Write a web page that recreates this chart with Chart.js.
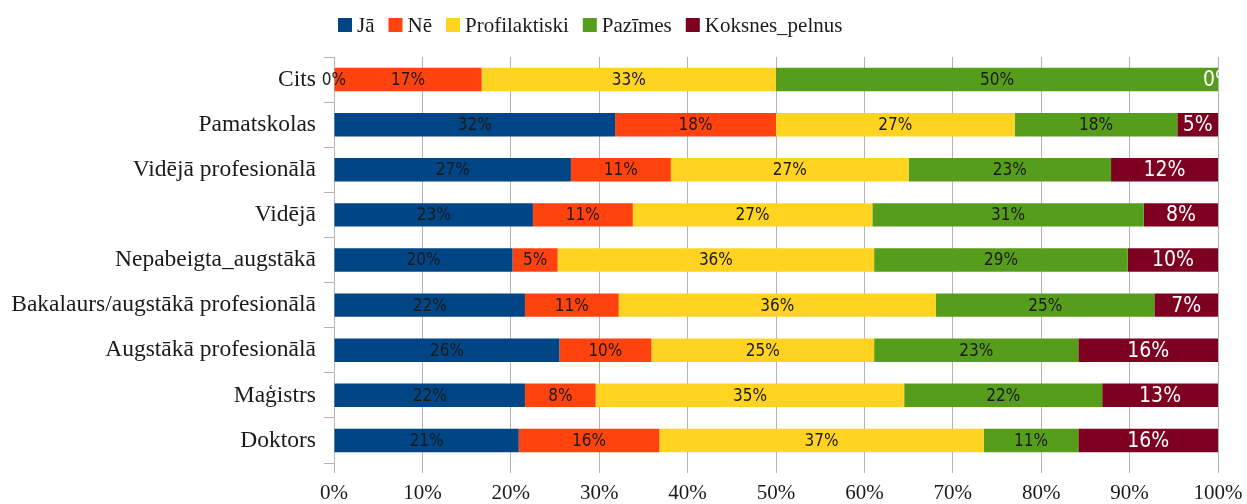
<!DOCTYPE html>
<html>
<head>
<meta charset="utf-8">
<script src="https://cdn.jsdelivr.net/npm/chart.js@4.4.1/dist/chart.umd.min.js"></script>
<style>
  html, body { margin: 0; padding: 0; background: #fff; }
  #wrap { width: 1247px; height: 504px; }
</style>
</head>
<body>
<div id="wrap"><canvas id="chart" width="1247" height="504"></canvas></div>
<script>
// kategorijas (no augšas uz leju)
const categories = ['Cits', 'Pamatskolas', 'Vidējā profesionālā', 'Vidējā', 'Nepabeigta_augstākā',
  'Bakalaurs/augstākā profesionālā', 'Augstākā profesionālā', 'Maģistrs', 'Doktors'];

const seriesNames = ['Jā', 'Nē', 'Profilaktiski', 'Pazīmes', 'Koksnes_pelnus'];
const seriesColors = ['#004586', '#ff420e', '#ffd320', '#579d1c', '#7e0021'];

// procenti nolasīti no attēla
const ja            = [0,    31.8, 26.8, 22.5, 20.2, 21.6, 25.5, 21.6, 20.9];
const ne            = [16.7, 18.2, 11.3, 11.3, 5.1,  10.6, 10.4, 8.0,  15.9];
const profilaktiski = [33.3, 27.0, 26.9, 27.1, 35.8, 35.9, 25.2, 34.9, 36.7];
const pazimes       = [50.0, 18.4, 22.9, 30.7, 28.7, 24.7, 23.1, 22.4, 10.7];
const koksnes       = [0,    4.6,  12.1, 8.4,  10.2, 7.2,  15.8, 13.1, 15.8];

const xTicks = [0, 10, 20, 30, 40, 50, 60, 70, 80, 90, 100];

const serif = "'Liberation Serif', 'DejaVu Serif', serif";
const labelFont = "'DejaVu Sans Condensed', 'Liberation Sans Narrow', 'DejaVu Sans', sans-serif";

const allSeries = [ja, ne, profilaktiski, pazimes, koksnes];
const datasets = allSeries.map((d, i) => ({
  label: seriesNames[i],
  data: d,
  backgroundColor: seriesColors[i],
  borderWidth: 0,
  barPercentage: 0.52,
  categoryPercentage: 1.0
}));

// vērtību uzraksti joslu vidū
const barLabels = {
  id: 'barLabels',
  afterDatasetsDraw(chart) {
    const ctx = chart.ctx;
    ctx.save();
    ctx.textAlign = 'center';
    ctx.textBaseline = 'middle';
    chart.data.datasets.forEach((ds, di) => {
      const meta = chart.getDatasetMeta(di);
      const last = di === chart.data.datasets.length - 1;
      meta.data.forEach((bar, i) => {
        const v = ds.data[i];
        const cx = (bar.x + bar.base) / 2;
        ctx.font = last ? "21px " + labelFont : "17px " + labelFont;
        ctx.fillStyle = last ? '#ffffff' : '#1a1a1a';
        ctx.fillText(Math.round(v) + '%', cx, bar.y + 1);
      });
    });
    ctx.restore();
  }
};

// leģenda augšā
const topLegend = {
  id: 'topLegend',
  afterDraw(chart) {
    const ctx = chart.ctx;
    ctx.save();
    ctx.font = "21px " + serif;
    ctx.textBaseline = 'middle';
    ctx.textAlign = 'left';
    let x = 338;
    const y = 25;
    chart.data.datasets.forEach(ds => {
      ctx.fillStyle = ds.backgroundColor;
      ctx.fillRect(x, y - 7, 14, 14);
      x += 14 + 5;
      ctx.fillStyle = '#1a1a1a';
      ctx.fillText(ds.label, x, y + 1);
      x += ctx.measureText(ds.label).width + 14;
    });
    ctx.restore();
  }
};

new Chart(document.getElementById('chart'), {
  type: 'bar',
  data: { labels: categories, datasets: datasets },
  options: {
    indexAxis: 'y',
    responsive: false,
    animation: false,
    layout: { padding: { top: 57, left: 0, right: 29, bottom: 0 } },
    plugins: {
      legend: { display: false },
      tooltip: { enabled: false }
    },
    scales: {
      x: {
        stacked: true,
        min: 0,
        max: 100,
        afterBuildTicks(scale) { scale.ticks = xTicks.map(v => ({ value: v })); },
        afterFit(scale) {
          scale.height = 41;
          scale.paddingLeft = 0;
          scale.paddingRight = 0;
        },
        border: { display: false },
        grid: { color: '#b3b3b3', lineWidth: 1, tickLength: 10, drawTicks: true },
        ticks: {
          padding: 8,
          color: '#1a1a1a',
          font: { family: serif, size: 21 },
          callback: v => v + '%'
        }
      },
      y: {
        stacked: true,
        afterFit(scale) { scale.width = 334; },
        border: { display: true, color: '#b3b3b3' },
        grid: { offset: true, drawOnChartArea: false, color: '#b3b3b3', tickLength: 10 },
        ticks: {
          padding: 8,
          color: '#1a1a1a',
          font: { family: serif, size: 23.5 }
        }
      }
    }
  },
  plugins: [barLabels, topLegend]
});
</script>
</body>
</html>
